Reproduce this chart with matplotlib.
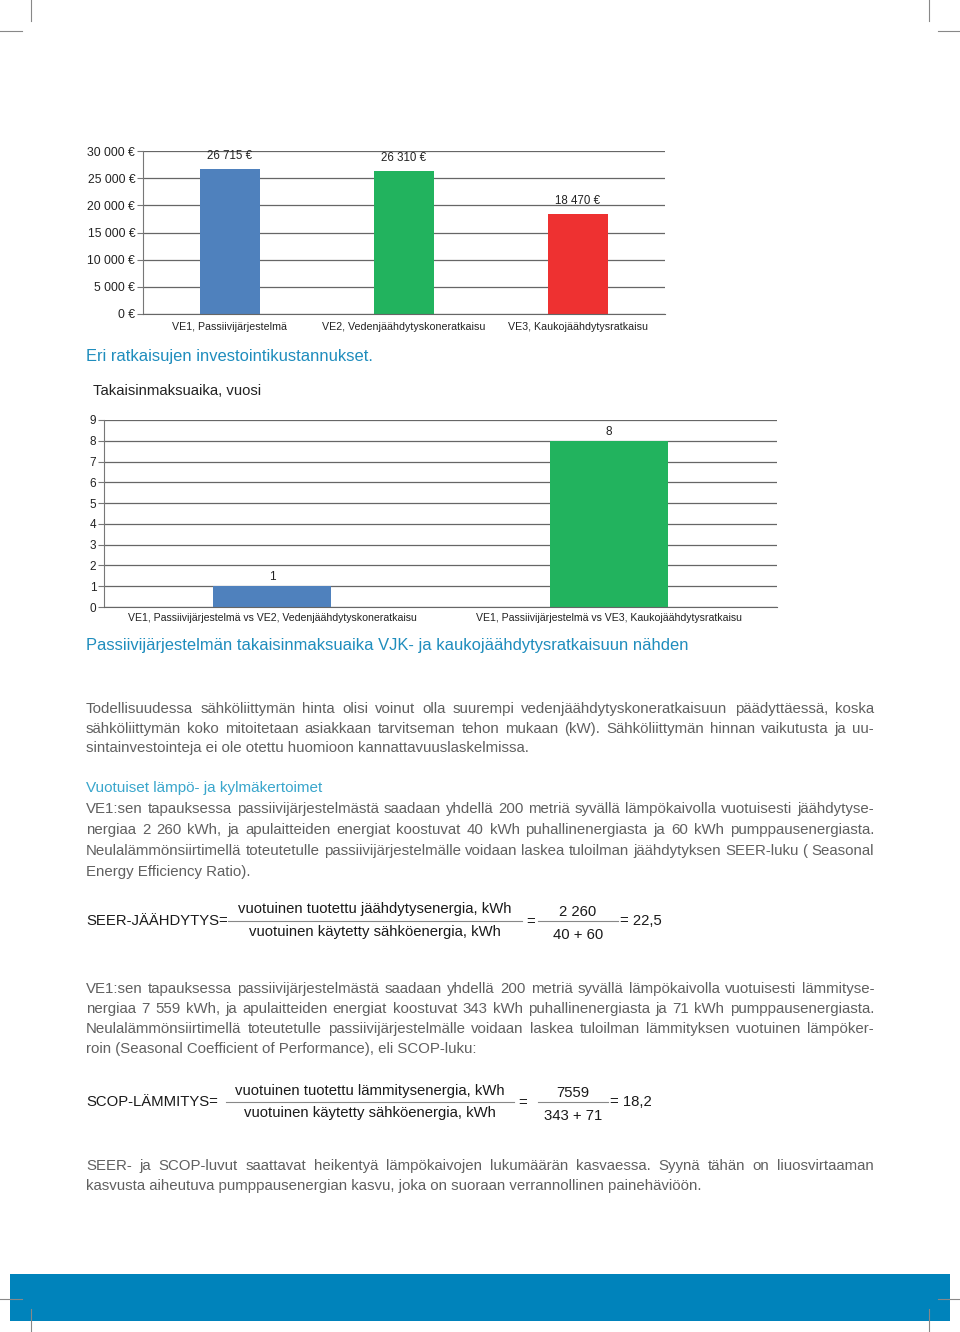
import matplotlib
matplotlib.use("Agg")
import matplotlib.pyplot as plt

W, H = 960, 1332

# --- data -----------------------------------------------------------------
cost_labels = ["VE1, Passiivijärjestelmä", "VE2, Vedenjäähdytyskoneratkaisu", "VE3, Kaukojäähdytysratkaisu"]
cost_values = [26715, 26310, 18470]
cost_colors = ["#4f81bd", "#22b35e", "#ee3131"]
cost_ticks = [0, 5000, 10000, 15000, 20000, 25000, 30000]

payback_labels = ["VE1, Passiivijärjestelmä vs VE2, Vedenjäähdytyskoneratkaisu",
                  "VE1, Passiivijärjestelmä vs VE3, Kaukojäähdytysratkaisu"]
payback_values = [1, 8]
payback_colors = ["#4f81bd", "#22b35e"]
payback_ticks = list(range(10))

para1 = ["Todellisuudessa sähköliittymän hinta olisi voinut olla suurempi vedenjäähdytyskoneratkaisuun päädyttäessä, koska",
         "sähköliittymän koko mitoitetaan asiakkaan tarvitseman tehon mukaan (kW). Sähköliittymän hinnan vaikutusta ja uu-",
         "sintainvestointeja ei ole otettu huomioon kannattavuuslaskelmissa."]
heading = "Vuotuiset lämpö- ja kylmäkertoimet"
para2 = ["VE1:sen tapauksessa passiivijärjestelmästä saadaan yhdellä 200 metriä syvällä lämpökaivolla vuotuisesti jäähdytyse-",
         "nergiaa 2 260 kWh, ja apulaitteiden energiat koostuvat 40 kWh puhallinenergiasta ja 60 kWh pumppausenergiasta.",
         "Neulalämmönsiirtimellä toteutetulle passiivijärjestelmälle voidaan laskea tuloilman jäähdytyksen SEER-luku ( Seasonal",
         "Energy Efficiency Ratio)."]
para3 = ["VE1:sen tapauksessa passiivijärjestelmästä saadaan yhdellä 200 metriä syvällä lämpökaivolla vuotuisesti lämmityse-",
         "nergiaa 7 559 kWh, ja apulaitteiden energiat koostuvat 343 kWh puhallinenergiasta ja 71 kWh pumppausenergiasta.",
         "Neulalämmönsiirtimellä toteutetulle passiivijärjestelmälle voidaan laskea tuloilman lämmityksen vuotuinen lämpöker-",
         "roin (Seasonal Coefficient of Performance), eli SCOP-luku:"]
para4 = ["SEER- ja SCOP-luvut saattavat heikentyä lämpökaivojen lukumäärän kasvaessa. Syynä tähän on liuosvirtaaman",
         "kasvusta aiheutuva pumppausenergian kasvu, joka on suoraan verrannollinen painehäviöön."]

plt.rcParams["font.family"] = ["Liberation Sans", "DejaVu Sans"]

fig = plt.figure(figsize=(W / 100, H / 100), dpi=100)
renderer = fig.canvas.get_renderer()


def fy(y):
    return 1 - y / H


def axes_px(x0, y0, x1, y1):
    return fig.add_axes([x0 / W, 1 - y1 / H, (x1 - x0) / W, (y1 - y0) / H])


def style_chart(ax, ticks, ylabel_fmt, tick_size):
    ax.set_ylim(0, ticks[-1])
    ax.set_yticks(ticks)
    ax.set_yticklabels([ylabel_fmt(t) for t in ticks], fontsize=tick_size, color="#222222")
    ax.yaxis.grid(True, color="#666666", lw=0.9)
    ax.set_axisbelow(True)
    for s in ["top", "right"]:
        ax.spines[s].set_visible(False)
    ax.spines["left"].set_color("#777777")
    ax.spines["bottom"].set_color("#666666")
    ax.tick_params(axis="y", length=4, color="#777777", pad=1.5)
    ax.tick_params(axis="x", length=0, pad=6)


def euro(v):
    return f"{v:,}".replace(",", " ") + " €"


# --- chart 1: investment costs ---------------------------------------------
ax1 = axes_px(143, 151, 665, 314)
x1 = range(len(cost_values))
ax1.bar(x1, cost_values, width=0.345, color=cost_colors)
ax1.set_xlim(-0.5, len(cost_values) - 0.5)
style_chart(ax1, cost_ticks, euro, 8.8)
ax1.set_xticks(list(x1))
ax1.set_xticklabels(cost_labels, fontsize=7.7, color="#222222")
for i, v in enumerate(cost_values):
    ax1.annotate(euro(v), (i, v), xytext=(0, 5), textcoords="offset points",
                 ha="center", va="bottom", fontsize=8.3, color="#222222")

fig.text(86 / W, fy(356), "Eri ratkaisujen investointikustannukset.", fontsize=11.9,
         color="#1f8dbd", va="center")

# --- chart 2: payback time -------------------------------------------------
fig.text(93 / W, fy(391), "Takaisinmaksuaika, vuosi", fontsize=10.7, color="#222222", va="center")
ax2 = axes_px(104, 420, 777, 607)
x2 = range(len(payback_values))
ax2.bar(x2, payback_values, width=0.35, color=payback_colors)
ax2.set_xlim(-0.5, len(payback_values) - 0.5)
style_chart(ax2, payback_ticks, str, 8.5)
ax2.set_xticks(list(x2))
ax2.set_xticklabels(payback_labels, fontsize=7.6, color="#222222")
ax2.tick_params(axis="x", pad=4)
for i, v in enumerate(payback_values):
    ax2.annotate(str(v), (i, v), xytext=(0, 2), textcoords="offset points",
                 ha="center", va="bottom", fontsize=8.5, color="#222222")

fig.text(86 / W, fy(645), "Passiivijärjestelmän takaisinmaksuaika VJK- ja kaukojäähdytysratkaisuun nähden",
         fontsize=11.9, color="#1f8dbd", va="center")

# --- body text -------------------------------------------------------------
BODY = dict(fontsize=10.8, color="#606060", va="center")
LEFT, RIGHT = 86, 874


def justify(line, y, last=False):
    if last:
        fig.text(LEFT / W, fy(y), line, **BODY)
        return
    words = line.split(" ")
    items = [fig.text(0, 0, w, **BODY) for w in words]
    widths = [t.get_window_extent(renderer).width for t in items]
    gap = (RIGHT - LEFT - sum(widths)) / (len(words) - 1)
    x = LEFT
    for t, w in zip(items, widths):
        t.set_position((x / W, fy(y)))
        x += w + gap


def paragraph(lines, y0, step):
    for k, line in enumerate(lines):
        justify(line, y0 + k * step, last=(k == len(lines) - 1))


paragraph(para1, 709, 19.7)
fig.text(LEFT / W, fy(788), heading, fontsize=11, color="#3aa6cc", va="center")
paragraph(para2, 809, 21)
paragraph(para3, 989, 20)
paragraph(para4, 1166, 20)

# --- formulas --------------------------------------------------------------
FORM = dict(fontsize=10.7, color="#1a1a1a", va="center")


def formula(y, name, num, den, n2, d2, result, fx0, fx1, gx0, gx1):
    fig.text(86 / W, fy(y), name, **FORM)
    fig.text((fx0 + fx1) / 2 / W, fy(y - 11.5), num, ha="center", **FORM)
    fig.text((fx0 + fx1) / 2 / W, fy(y + 11), den, ha="center", **FORM)
    fig.add_artist(plt.Line2D([fx0 / W, fx1 / W], [fy(y), fy(y)], color="#888888", lw=0.8))
    fig.text((fx1 + 9) / W, fy(y + 1), "=", ha="center", **FORM)
    fig.text((gx0 + gx1) / 2 / W, fy(y - 9), n2, ha="center", **FORM)
    fig.add_artist(plt.Line2D([gx0 / W, gx1 / W], [fy(y), fy(y)], color="#888888", lw=0.8))
    fig.text((gx0 + gx1) / 2 / W, fy(y + 14), d2, ha="center", **FORM)
    fig.text((gx1 + 2) / W, fy(y), result, **FORM)


formula(921, "SEER-JÄÄHDYTYS=", "vuotuinen tuotettu jäähdytysenergia, kWh",
        "vuotuinen käytetty sähköenergia, kWh", "2 260", "40 + 60", "= 22,5",
        228, 522, 538, 618)
formula(1102, "SCOP-LÄMMITYS=", "vuotuinen tuotettu lämmitysenergia, kWh",
        "vuotuinen käytetty sähköenergia, kWh", "7559", "343 + 71", "= 18,2",
        226, 514, 538, 608)

# --- page furniture: bottom band and crop marks ----------------------------
fig.add_artist(plt.Rectangle((10 / W, fy(1321)), 940 / W, 47 / H, color="#0083bb", lw=0))
mark = dict(color="#888888", lw=0.8)
for xv in (31, 929):
    fig.add_artist(plt.Line2D([xv / W, xv / W], [fy(0), fy(21)], **mark))
    fig.add_artist(plt.Line2D([xv / W, xv / W], [fy(1309), fy(1332)], **mark))
for (xa, xb) in ((0, 22), (938, 960)):
    fig.add_artist(plt.Line2D([xa / W, xb / W], [fy(31), fy(31)], **mark))
    fig.add_artist(plt.Line2D([xa / W, xb / W], [fy(1299), fy(1299)], **mark))

fig.savefig("out.png", dpi=100)
